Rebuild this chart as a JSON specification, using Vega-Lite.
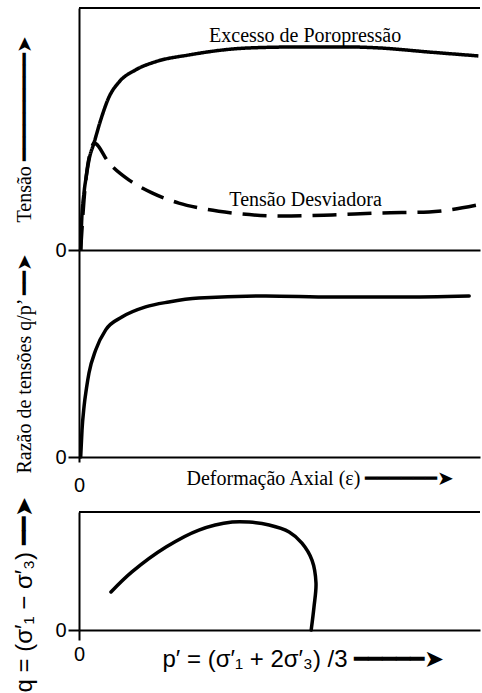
{
  "$schema": "https://vega.github.io/schema/vega-lite/v6.json",
  "padding": {"left": 11, "top": 7, "right": 0, "bottom": 0},
  "background": "white",
  "bounds": "flush",
  "spacing": 0,
  "datasets": {
    "tensao": [
      {"serie": "Excesso de Poropressão", "deformacao": 0.42, "tensao": 0},
      {"serie": "Excesso de Poropressão", "deformacao": 0.62, "tensao": 10.3},
      {"serie": "Excesso de Poropressão", "deformacao": 1.25, "tensao": 23.6},
      {"serie": "Excesso de Poropressão", "deformacao": 1.87, "tensao": 31.0},
      {"serie": "Excesso de Poropressão", "deformacao": 2.49, "tensao": 37.2},
      {"serie": "Excesso de Poropressão", "deformacao": 3.74, "tensao": 44.2},
      {"serie": "Excesso de Poropressão", "deformacao": 5.41, "tensao": 53.7},
      {"serie": "Excesso de Poropressão", "deformacao": 7.48, "tensao": 63.2},
      {"serie": "Excesso de Poropressão", "deformacao": 9.98, "tensao": 69.4},
      {"serie": "Excesso de Poropressão", "deformacao": 14.1, "tensao": 74.4},
      {"serie": "Excesso de Poropressão", "deformacao": 19.1, "tensao": 77.8},
      {"serie": "Excesso de Poropressão", "deformacao": 27.4, "tensao": 80.6},
      {"serie": "Excesso de Poropressão", "deformacao": 42.4, "tensao": 83.5},
      {"serie": "Excesso de Poropressão", "deformacao": 54.9, "tensao": 83.9},
      {"serie": "Excesso de Poropressão", "deformacao": 67.3, "tensao": 83.9},
      {"serie": "Excesso de Poropressão", "deformacao": 74.8, "tensao": 83.5},
      {"serie": "Excesso de Poropressão", "deformacao": 87.3, "tensao": 81.8},
      {"serie": "Excesso de Poropressão", "deformacao": 99.6, "tensao": 80.2},
      {"serie": "Tensão Desviadora", "deformacao": 0.42, "tensao": 0},
      {"serie": "Tensão Desviadora", "deformacao": 1.25, "tensao": 20.7},
      {"serie": "Tensão Desviadora", "deformacao": 2.0, "tensao": 33.1},
      {"serie": "Tensão Desviadora", "deformacao": 3.0, "tensao": 41.3},
      {"serie": "Tensão Desviadora", "deformacao": 3.74, "tensao": 44.2},
      {"serie": "Tensão Desviadora", "deformacao": 7.48, "tensao": 36.0},
      {"serie": "Tensão Desviadora", "deformacao": 12.5, "tensao": 28.9},
      {"serie": "Tensão Desviadora", "deformacao": 18.2, "tensao": 23.6},
      {"serie": "Tensão Desviadora", "deformacao": 24.9, "tensao": 19.4},
      {"serie": "Tensão Desviadora", "deformacao": 29.9, "tensao": 17.4},
      {"serie": "Tensão Desviadora", "deformacao": 38.2, "tensao": 15.3},
      {"serie": "Tensão Desviadora", "deformacao": 50.6, "tensao": 14.0},
      {"serie": "Tensão Desviadora", "deformacao": 63.1, "tensao": 14.5},
      {"serie": "Tensão Desviadora", "deformacao": 74.8, "tensao": 15.3},
      {"serie": "Tensão Desviadora", "deformacao": 87.3, "tensao": 15.7},
      {"serie": "Tensão Desviadora", "deformacao": 99.3, "tensao": 18.6}
    ],
    "rotulos": [
      {"serie": "Excesso de Poropressão", "deformacao": 56.4, "tensao": 86.0},
      {"serie": "Tensão Desviadora", "deformacao": 56.5, "tensao": 18.2}
    ],
    "razao": [
      {"deformacao": 0.42, "razao": 0},
      {"deformacao": 0.75, "razao": 13.0},
      {"deformacao": 1.25, "razao": 24.2},
      {"deformacao": 1.87, "razao": 33.3},
      {"deformacao": 2.49, "razao": 40.6},
      {"deformacao": 4.16, "razao": 51.7},
      {"deformacao": 6.66, "razao": 61.4},
      {"deformacao": 10.7, "razao": 67.6},
      {"deformacao": 16.6, "razao": 72.5},
      {"deformacao": 22.4, "razao": 74.9},
      {"deformacao": 29.9, "razao": 76.8},
      {"deformacao": 46.6, "razao": 77.8},
      {"deformacao": 63.1, "razao": 77.3},
      {"deformacao": 79.8, "razao": 77.3},
      {"deformacao": 97.3, "razao": 77.8}
    ],
    "trajetoria": [
      {"ordem": 1, "p": 7.98, "q": 32.2},
      {"ordem": 2, "p": 13.2, "q": 49.2},
      {"ordem": 3, "p": 21.7, "q": 70.3},
      {"ordem": 4, "p": 29.9, "q": 84.7},
      {"ordem": 5, "p": 38.2, "q": 91.5},
      {"ordem": 6, "p": 42.4, "q": 91.5},
      {"ordem": 7, "p": 47.4, "q": 89.0},
      {"ordem": 8, "p": 52.4, "q": 83.1},
      {"ordem": 9, "p": 55.6, "q": 73.7},
      {"ordem": 10, "p": 58.1, "q": 59.3},
      {"ordem": 11, "p": 59.1, "q": 39.8},
      {"ordem": 12, "p": 58.6, "q": 19.5},
      {"ordem": 13, "p": 57.9, "q": 0}
    ]
  },
  "vconcat": [
    {
      "width": 401,
      "height": 242,
      "layer": [
        {
          "data": {"name": "tensao"},
          "mark": {"type": "line", "interpolate": "monotone", "strokeWidth": 3.5, "color": "black"},
          "encoding": {
            "x": {"field": "deformacao", "type": "quantitative", "scale": {"domain": [0, 100], "nice": false},
                  "axis": {"orient": "bottom", "labels": false, "ticks": false, "title": null}},
            "y": {"field": "tensao", "type": "quantitative", "scale": {"domain": [0, 100], "nice": false},
                  "axis": {"values": [0], "tickSize": 11, "labelPadding": 2, "title": "Tensão  ━━━━━━━━━➤",
                           "titleFont": "Liberation Serif", "titleFontSize": 20, "titleAngle": 270,
                           "titleX": -55, "titleY": 214, "titleAlign": "left", "titleBaseline": "middle"}},
            "strokeDash": {"field": "serie", "type": "nominal",
                           "scale": {"domain": ["Excesso de Poropressão", "Tensão Desviadora"], "range": [[1, 0], [24, 11]]},
                           "legend": null}
          }
        },
        {
          "data": {"name": "rotulos"},
          "mark": {"type": "text", "font": "Liberation Serif", "fontSize": 20, "align": "center", "baseline": "alphabetic", "color": "black"},
          "encoding": {
            "x": {"field": "deformacao", "type": "quantitative"},
            "y": {"field": "tensao", "type": "quantitative"},
            "text": {"field": "serie"}
          }
        },
        {
          "data": {"values": [{}]},
          "mark": {"type": "rule", "strokeWidth": 2, "color": "black"},
          "encoding": {"y": {"datum": 100}}
        }
      ]
    },
    {
      "width": 401,
      "height": 207,
      "data": {"name": "razao"},
      "mark": {"type": "line", "interpolate": "monotone", "strokeWidth": 3.5, "color": "black", "strokeCap": "round"},
      "encoding": {
        "x": {"field": "deformacao", "type": "quantitative", "scale": {"domain": [0, 100], "nice": false},
              "axis": {"values": [0], "tickSize": 5, "labelPadding": 13, "labelFlush": false,
                       "title": "Deformação Axial (ε) ━━━━━━➤", "titleFont": "Liberation Serif", "titleFontSize": 20,
                       "titleX": 107, "titleY": 27, "titleAlign": "left", "titleBaseline": "alphabetic", "titleAnchor": "start"}},
        "y": {"field": "razao", "type": "quantitative", "scale": {"domain": [0, 100], "nice": false},
              "axis": {"values": [0], "tickSize": 11, "labelPadding": 2, "title": "Razão de tensões q/p’  ━━➤",
                       "titleFont": "Liberation Serif", "titleFontSize": 20, "titleAngle": 270,
                       "titleX": -55, "titleY": 223, "titleAlign": "left", "titleBaseline": "middle"}}
      }
    },
    {
      "width": 401,
      "height": 55,
      "data": {"values": []},
      "mark": "point",
      "encoding": {}
    },
    {
      "width": 401,
      "height": 118,
      "layer": [
        {
          "data": {"name": "trajetoria"},
          "mark": {"type": "line", "interpolate": "catmull-rom", "strokeWidth": 3.5, "color": "black", "strokeCap": "round"},
          "encoding": {
            "x": {"field": "p", "type": "quantitative", "scale": {"domain": [0, 100], "nice": false},
                  "axis": {"values": [0], "tickSize": 10, "labelPadding": 4, "labelFlush": false,
                           "title": "p′ = (σ′₁ + 2σ′₃) /3 ━━━━━➤", "titleFont": "Liberation Sans", "titleFontSize": 24,
                           "titleX": 83, "titleY": 36, "titleAlign": "left", "titleBaseline": "alphabetic", "titleAnchor": "start"}},
            "y": {"field": "q", "type": "quantitative", "scale": {"domain": [0, 100], "nice": false},
                  "axis": {"values": [0], "tickSize": 11, "labelPadding": 2, "title": "q = (σ′₁ − σ′₃) ━━➤",
                           "titleFont": "Liberation Sans", "titleFontSize": 24, "titleAngle": 270,
                           "titleX": -55, "titleY": 180, "titleAlign": "left", "titleBaseline": "middle"}},
            "order": {"field": "ordem", "type": "quantitative"}
          }
        },
        {
          "data": {"values": [{}]},
          "mark": {"type": "rule", "strokeWidth": 2, "color": "black"},
          "encoding": {"y": {"datum": 100}}
        }
      ]
    }
  ],
  "config": {
    "view": {"stroke": null},
    "axis": {
      "grid": false,
      "domainColor": "black",
      "domainWidth": 2,
      "tickColor": "black",
      "tickWidth": 2,
      "labelColor": "black",
      "labelFont": "Liberation Sans",
      "labelFontSize": 20,
      "titleColor": "black",
      "titleFontWeight": "normal"
    }
  }
}
